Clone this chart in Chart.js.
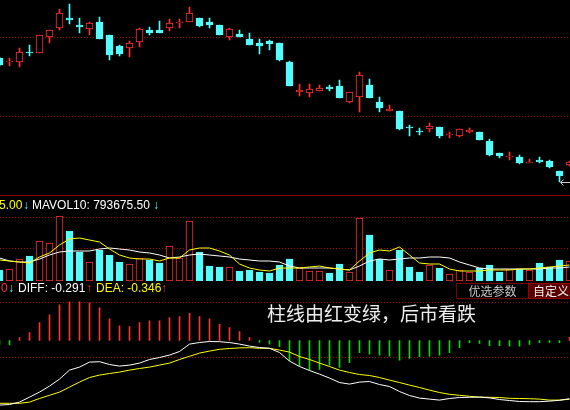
<!DOCTYPE html>
<html><head><meta charset="utf-8">
<script src="https://cdn.jsdelivr.net/npm/chart.js@4.4.1/dist/chart.umd.min.js"></script>
<style>
html,body{margin:0;padding:0;background:#000;width:570px;height:410px;overflow:hidden;}
#wrap{position:relative;width:570px;height:410px;overflow:hidden;background:#000;}
canvas{position:absolute;left:-6px;}
.t{position:absolute;font-family:"Liberation Sans",Arial,sans-serif;font-size:12px;line-height:12px;white-space:nowrap;}
.cjk{position:absolute;font-family:"Noto Sans CJK SC",sans-serif;white-space:nowrap;}
#sep{position:absolute;left:0;top:195px;width:570px;height:1px;background:#8a0000;}
#btn1{position:absolute;left:456px;top:283px;width:73px;height:16px;box-sizing:border-box;border:1px solid #7a0000;background:#000;color:#c8c8c8;font-size:12px;line-height:14px;text-align:center;}
#btn2{position:absolute;left:528px;top:283px;width:50px;height:16px;box-sizing:border-box;border:1px solid #9a0000;background:#5a0000;color:#f4f4f4;font-size:12px;line-height:14px;padding-left:4px;}
#note{left:267px;top:303px;font-size:19px;line-height:19px;color:#eeeeee;}
</style></head>
<body><div id="wrap">
<canvas id="cPrice" width="581" height="195" style="top:0px"></canvas>
<div id="sep"></div>
<canvas id="cVol" width="581" height="85" style="top:196px"></canvas>
<canvas id="cMacd" width="581" height="129" style="top:281px"></canvas>

<span class="t" style="left:-1px;top:199px;color:#ffff00">5.00</span>
<span class="t" style="left:23px;top:199px;color:#54fcfc">↓</span>
<span class="t" style="left:32px;top:199px;color:#ffffff">MAVOL10: 793675.50</span>
<span class="t" style="left:153px;top:199px;color:#54fcfc">↓</span>

<span class="t" style="left:1px;top:282px;color:#ff3232">0</span>
<span class="t" style="left:8px;top:282px;color:#54fcfc">↓</span>
<span class="t" style="left:18px;top:282px;color:#ffffff">DIFF: -0.291</span>
<span class="t" style="left:86px;top:282px;color:#ff3232">↑</span>
<span class="t" style="left:96px;top:282px;color:#ffff00">DEA: -0.346</span>
<span class="t" style="left:161px;top:282px;color:#ff3232">↑</span>

<div id="btn1" class="cjk">优选参数</div>
<div id="btn2" class="cjk">自定义</div>
<div id="note" class="cjk">柱线由红变绿，后市看跌</div>
</div>
<script>
// ---- data ----
const days = Array.from({length:58},(_,i)=>'D'+(i+1));
const open  = [12.10,11.90,11.90,12.40,12.35,13.15,13.60,14.10,13.75,13.55,13.90,13.25,12.70,12.60,12.90,13.50,13.50,13.60,13.85,13.90,14.10,13.90,13.75,13.15,13.30,13.05,12.85,12.95,12.85,11.90,10.40,10.35,10.45,10.65,10.70,9.90,10.15,10.75,9.90,9.45,9.45,8.65,8.45,8.55,8.65,8.25,8.20,8.40,8.40,7.95,7.35,7.15,7.15,6.85,7.00,6.95,6.45,6.75];
const high  = [12.15,12.10,12.60,12.75,13.25,13.50,14.55,14.80,14.10,13.90,14.15,13.25,12.75,12.95,13.60,13.65,13.95,14.05,14.05,14.65,14.10,14.10,13.75,13.60,13.50,13.35,13.05,13.00,12.85,11.95,10.80,10.80,10.75,10.75,11.00,10.40,11.40,11.05,10.15,9.75,9.45,8.75,8.60,8.85,8.65,8.40,8.55,8.60,8.40,8.05,7.35,7.40,7.25,7.05,7.15,7.00,6.45,6.95];
const low   = [11.70,11.70,11.65,12.20,12.35,12.85,13.50,13.80,13.35,13.25,13.05,12.00,12.20,12.15,12.65,13.25,13.35,13.45,13.60,13.90,13.65,13.60,13.25,13.00,13.15,12.75,12.30,12.50,11.95,10.70,10.20,10.15,10.45,10.45,10.10,9.85,9.40,10.10,9.40,9.45,8.50,8.20,8.25,8.40,8.10,8.10,8.15,8.35,8.00,7.20,7.10,7.00,6.80,6.85,6.85,6.60,5.90,6.70];
const close = [11.75,11.95,12.40,12.35,13.25,13.50,14.35,14.00,13.65,13.85,13.05,12.25,12.30,12.85,13.55,13.35,13.35,13.85,13.90,14.35,13.70,13.75,13.25,13.55,13.15,12.75,12.70,12.80,12.00,10.70,10.50,10.55,10.60,10.55,10.10,10.40,11.25,10.10,9.60,9.55,8.55,8.60,8.40,8.70,8.20,8.30,8.55,8.50,8.00,7.25,7.20,7.20,6.85,6.90,6.90,6.65,6.20,6.90];
const volume = [623700,680400,1247400,1417500,2268000,2154600,3685500,2835000,1644300,1077300,1757700,1474200,1077300,963900,1304100,1190700,1020600,1984500,1304100,3402000,1644300,850500,793800,793800,567000,623700,510300,453600,907200,1247400,737100,567000,567000,453600,963900,510300,3572100,2608200,1247400,623700,1757700,793800,510300,907200,737100,396900,623700,510300,737100,907200,510300,680400,680400,623700,1020600,793800,1190700,1134000];
const mavol5 = [1190700,1134000,1077300,1020600,1360800,1587600,2041200,2381400,2438100,2324700,2211300,1814400,1474200,1304100,1247400,1247400,1134000,1304100,1304100,1757700,1871100,1871100,1701000,1474200,963900,737100,623700,567000,737100,737100,737100,793800,850500,737100,680400,623700,1134000,1587600,1757700,1701000,1927800,1474200,1020600,963900,963900,680400,567000,567000,567000,623700,623700,623700,680400,680400,737100,793800,850500,907200];
const mavol10 = [1304100,1134000,1077300,1077300,1247400,1474200,1644300,1701000,1701000,1701000,1814400,1871100,1814400,1757700,1644300,1587600,1474200,1304100,1360800,1474200,1530900,1474200,1417500,1360800,1247400,1190700,1134000,1134000,1077300,850500,737100,737100,737100,737100,680400,623700,850500,1134000,1247400,1190700,1247400,1304100,1304100,1360800,1360800,1304100,1077300,907200,737100,680400,680400,680400,680400,680400,680400,737100,737100,793675.5];
const macdHist = [-0.020,-0.022,0.014,0.039,0.089,0.128,0.178,0.193,0.193,0.188,0.163,0.108,0.073,0.069,0.089,0.098,0.098,0.114,0.119,0.136,0.119,0.108,0.081,0.064,0.044,0.014,-0.008,-0.018,-0.031,-0.101,-0.128,-0.148,-0.144,-0.123,-0.134,-0.111,-0.061,-0.068,-0.073,-0.078,-0.098,-0.089,-0.081,-0.078,-0.073,-0.061,-0.036,-0.011,-0.014,-0.026,-0.026,-0.028,-0.028,-0.019,-0.011,-0.009,-0.011,0.016];
const diff = [-0.323,-0.320,-0.308,-0.283,-0.258,-0.228,-0.193,-0.148,-0.133,-0.108,-0.106,-0.120,-0.128,-0.123,-0.113,-0.095,-0.085,-0.073,-0.055,-0.018,-0.010,-0.005,-0.006,-0.010,-0.018,-0.028,-0.035,-0.039,-0.060,-0.103,-0.130,-0.150,-0.168,-0.188,-0.210,-0.218,-0.208,-0.205,-0.220,-0.230,-0.255,-0.275,-0.288,-0.293,-0.298,-0.290,-0.285,-0.284,-0.283,-0.287,-0.295,-0.300,-0.305,-0.306,-0.306,-0.303,-0.299,-0.291];
const dea = [-0.314,-0.314,-0.314,-0.308,-0.290,-0.274,-0.258,-0.233,-0.208,-0.185,-0.173,-0.165,-0.158,-0.148,-0.140,-0.133,-0.123,-0.113,-0.095,-0.079,-0.063,-0.053,-0.044,-0.040,-0.037,-0.036,-0.039,-0.039,-0.048,-0.058,-0.080,-0.095,-0.113,-0.130,-0.148,-0.160,-0.170,-0.175,-0.185,-0.198,-0.210,-0.223,-0.235,-0.248,-0.260,-0.269,-0.274,-0.279,-0.283,-0.284,-0.285,-0.289,-0.290,-0.291,-0.293,-0.298,-0.298,-0.294];
const priceGrid = [13.15, 9.20];
const volGrid = [3628800, 1871100];
const macdGrid = [0.1925, -0.0825];

// ---- styling ----
const RED = '#ff3232', CYAN = '#54fcfc', YEL = '#ffff00', WHITE = '#ffffff', GREEN = '#00e000', GRIDC = '#a00000';
const up = close.map((c,i)=>c>open[i]);
const bodyFill = up.map(u=>u?'#000000':CYAN);
const edge = up.map(u=>u?RED:CYAN);

const dotGrid = {
  id:'dotGrid',
  beforeDatasetsDraw(chart, args, opts){
    const ctx = chart.ctx, ys = chart.scales.y, a = chart.chartArea;
    ctx.save(); ctx.strokeStyle = GRIDC; ctx.lineWidth = 1; ctx.setLineDash([1,2]);
    for (const v of (opts.values||[])) {
      const py = Math.round(ys.getPixelForValue(v)) + 0.5;
      ctx.beginPath(); ctx.moveTo(0, py); ctx.lineTo(chart.width, py); ctx.stroke();
    }
    ctx.restore();
  }
};
const lowMark = {
  id:'lowMark',
  afterDatasetsDraw(chart){
    let idx = 0; low.forEach((v,i)=>{ if (v < low[idx]) idx = i; });
    const ctx = chart.ctx;
    const x = chart.scales.x.getPixelForValue(idx) + 1;
    const y = Math.round(chart.scales.y.getPixelForValue(low[idx])) + 0.5;
    ctx.save(); ctx.strokeStyle = '#c8c8c8'; ctx.lineWidth = 1;
    ctx.beginPath(); ctx.moveTo(x, y); ctx.lineTo(x + 40, y);
    ctx.moveTo(x, y); ctx.lineTo(x + 3, y - 3);
    ctx.moveTo(x, y); ctx.lineTo(x + 3, y + 3);
    ctx.stroke(); ctx.restore();
  }
};

function baseOptions(yMin, yMax, grid){
  return {
    responsive:false, animation:false, devicePixelRatio:1, events:[],
    layout:{padding:{left:0.5,right:0.5,top:0,bottom:0}},
    plugins:{legend:{display:false}, tooltip:{enabled:false}, dotGrid:{values:grid}},
    scales:{
      x:{type:'category', display:false, offset:true, grid:{display:false}},
      y:{type:'linear', display:false, min:yMin, max:yMax}
    }
  };
}

// price panel: 195px, 0.05 per px
new Chart(document.getElementById('cPrice'), {
  type:'bar',
  data:{ labels:days, datasets:[
    { label:'wick', data: low.map((l,i)=>[l, high[i]]), backgroundColor: edge, barThickness:1, grouped:false, order:2 },
    { label:'body', data: open.map((o,i)=>[o, close[i]]), backgroundColor: bodyFill, borderColor: edge,
      borderWidth:1, borderSkipped:false, barThickness:7, grouped:false, order:1 }
  ]},
  options: baseOptions(5.25, 15, priceGrid),
  plugins:[dotGrid, lowMark]
});

// volume panel
new Chart(document.getElementById('cVol'), {
  type:'bar',
  data:{ labels:days, datasets:[
    { label:'VOL', data: volume, backgroundColor: bodyFill, borderColor: edge, borderWidth:1, borderSkipped:false,
      barThickness:7, grouped:false, order:3 },
    { type:'line', label:'MAVOL5', data: mavol5, borderColor: YEL, borderWidth:1, pointRadius:0, tension:0, order:1 },
    { type:'line', label:'MAVOL10', data: mavol10, borderColor: WHITE, borderWidth:1, pointRadius:0, tension:0, order:2 }
  ]},
  options: baseOptions(0, 85*56700, volGrid),
  plugins:[dotGrid]
});

// MACD panel
new Chart(document.getElementById('cMacd'), {
  type:'bar',
  data:{ labels:days, datasets:[
    { label:'MACD', data: macdHist, backgroundColor: macdHist.map(v=>v>=0?RED:GREEN), barThickness:1, grouped:false, order:3 },
    { type:'line', label:'DIFF', data: diff, borderColor: WHITE, borderWidth:1, pointRadius:0, tension:0, order:1 },
    { type:'line', label:'DEA', data: dea, borderColor: YEL, borderWidth:1, pointRadius:0, tension:0, order:2 }
  ]},
  options: baseOptions(-0.3475, 0.2975, macdGrid),
  plugins:[dotGrid]
});
</script>
</body></html>
